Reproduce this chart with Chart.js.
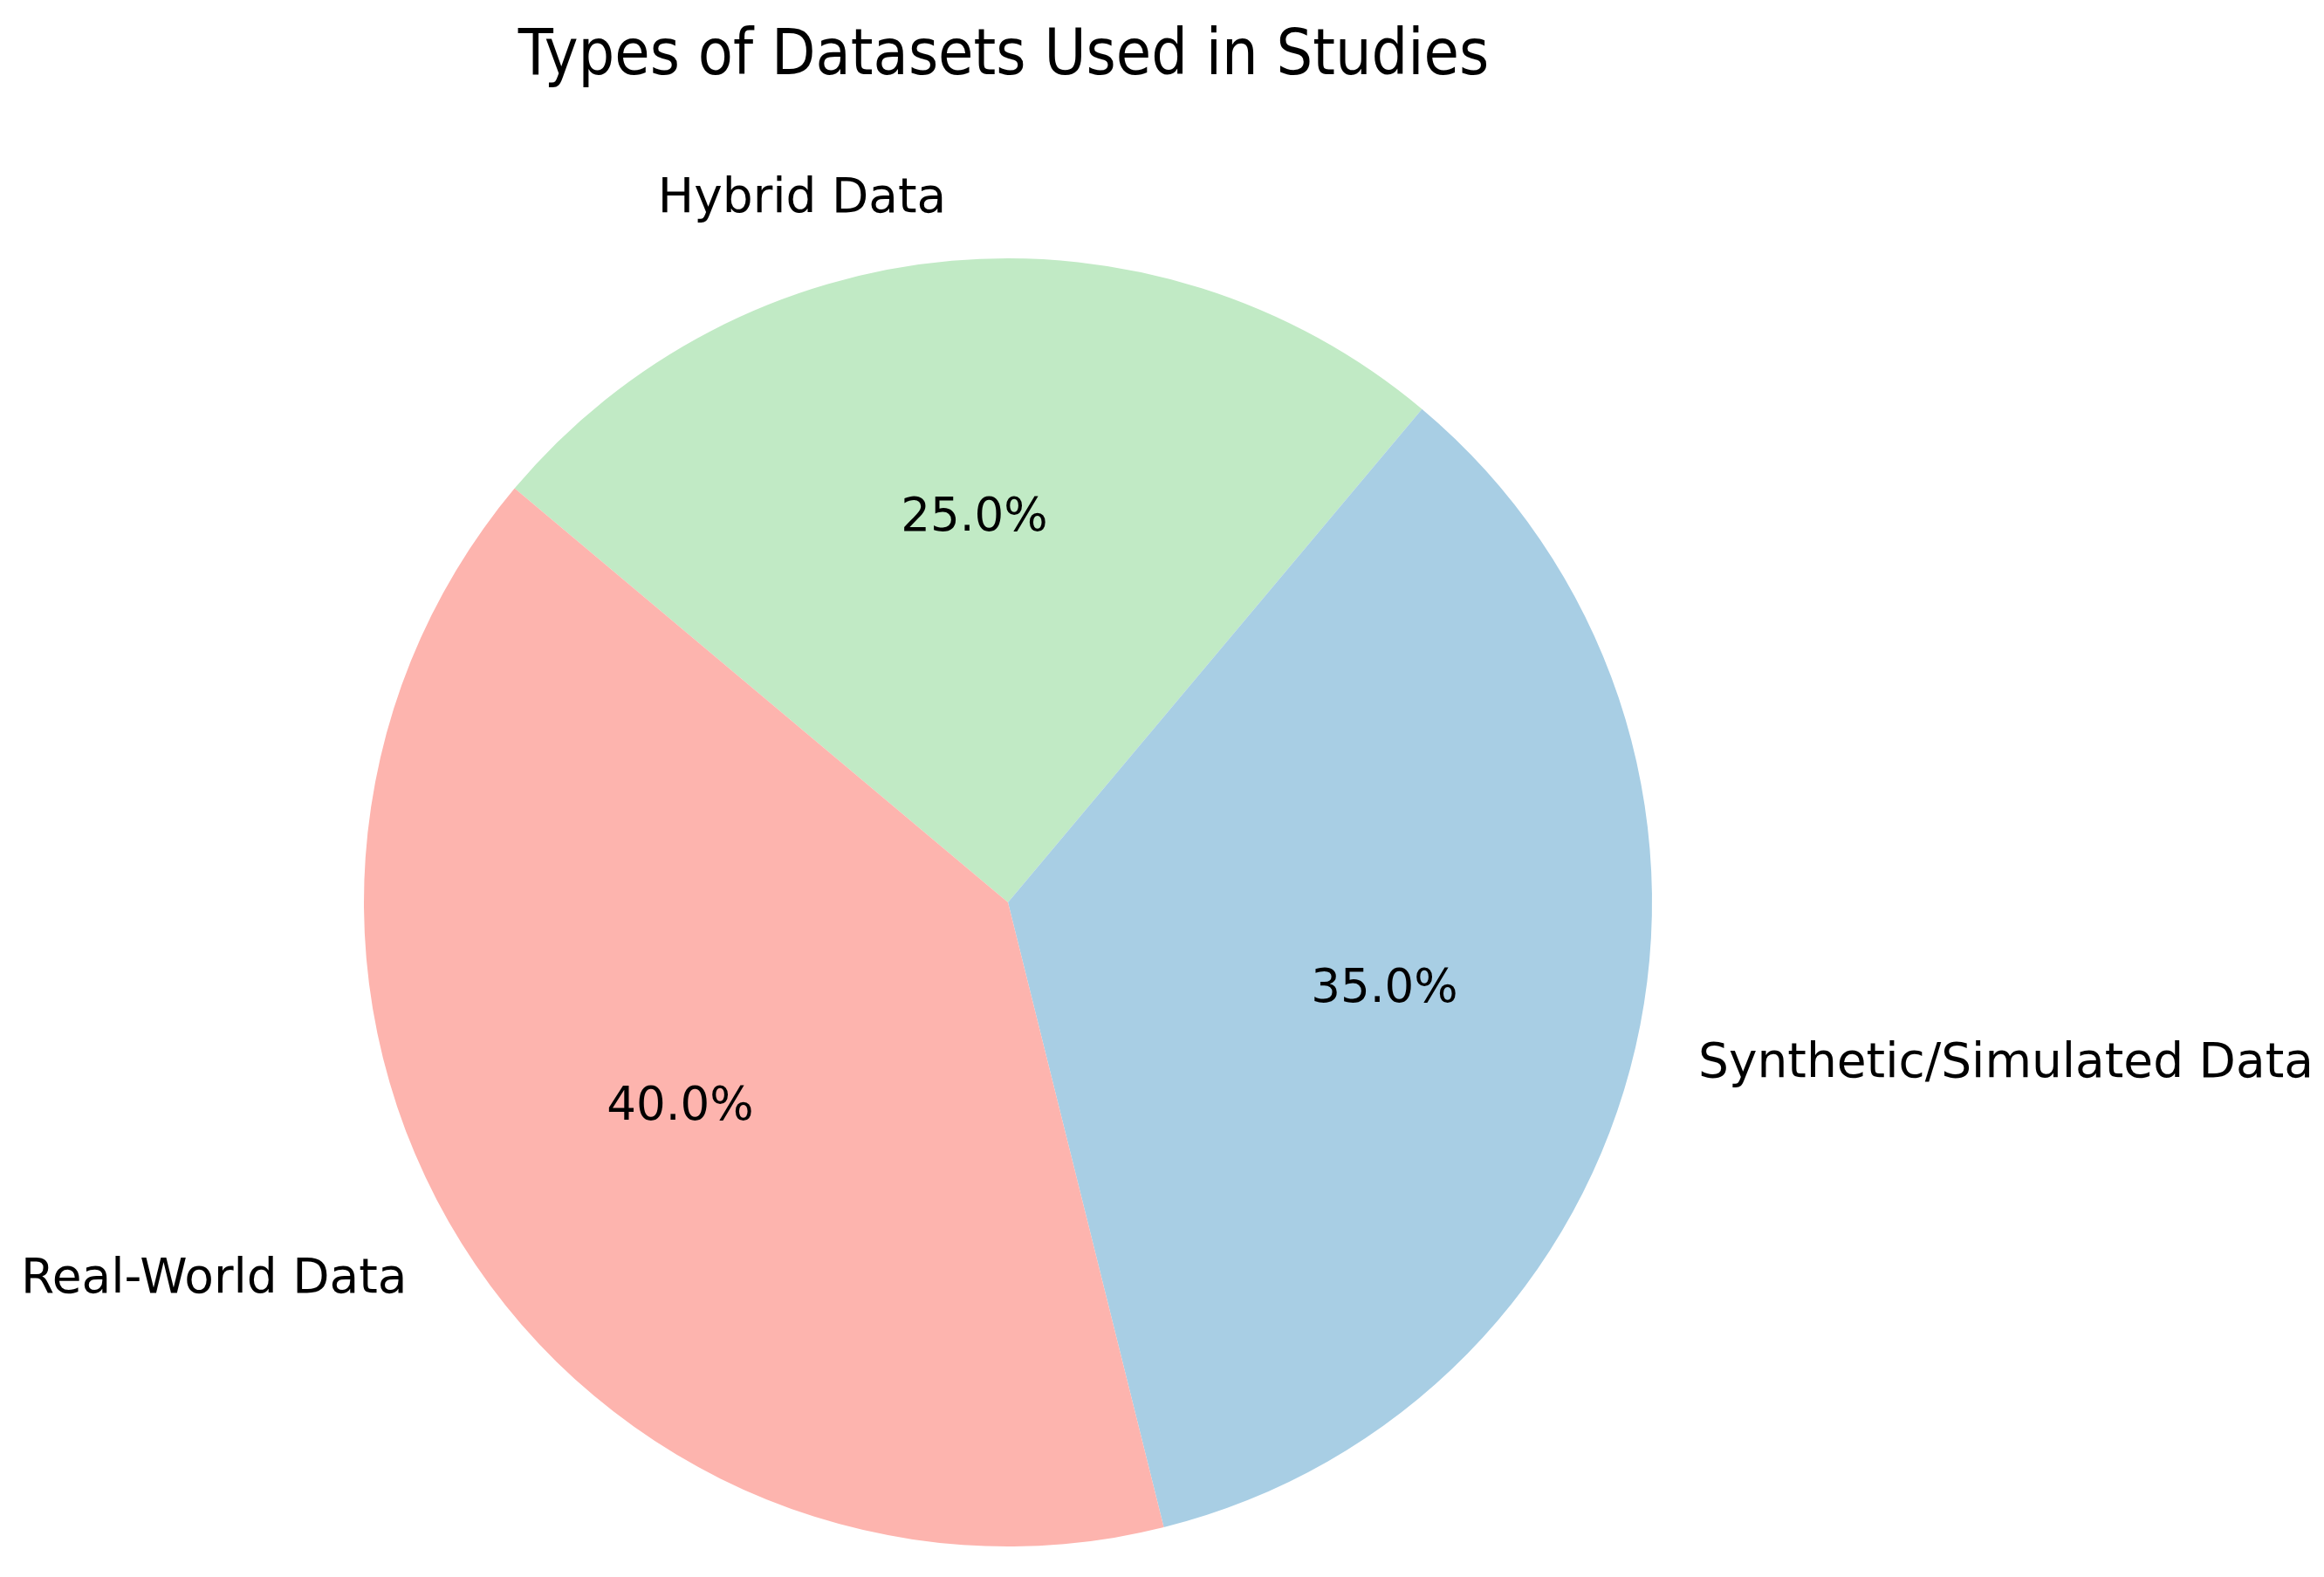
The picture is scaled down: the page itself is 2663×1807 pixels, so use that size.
<!DOCTYPE html>
<html>
<head>
<meta charset="utf-8">
<script src="https://cdn.jsdelivr.net/npm/chart.js@4.4.1/dist/chart.umd.min.js"></script>
<style>
  html, body { margin: 0; padding: 0; background: #ffffff; }
  #wrap { width: 2663px; height: 1807px; position: relative; }
  canvas { display: block; }
</style>
</head>
<body>
<div id="wrap"><canvas id="c" width="2663" height="1807"></canvas></div>
<script>
// ---- data (matplotlib order, counter-clockwise from 140°) ----
const chartTitle = "Types of Datasets Used in Studies";
const categories = ["Real-World Data", "Synthetic/Simulated Data", "Hybrid Data"];
const shares = [40, 35, 25];
const sliceColors = ["#fdb4ae", "#a8cee4", "#c1eac5"];

// Chart.js draws clockwise; reverse to reproduce the counter-clockwise layout
const order = [2, 1, 0];
const libLabels = order.map(i => categories[i]);
const libValues = order.map(i => shares[i]);
const libColors = order.map(i => sliceColors[i]);

const FONT = '"DejaVu Sans", "Liberation Sans", sans-serif';

const labelPlugin = {
  id: 'mplLabels',
  afterDatasetsDraw(chart) {
    const ctx = chart.ctx;
    const meta = chart.getDatasetMeta(0);
    const total = libValues.reduce((a, b) => a + b, 0);
    ctx.save();
    ctx.fillStyle = '#000000';
    meta.data.forEach((arc, i) => {
      const p = arc.getProps(['x', 'y', 'startAngle', 'endAngle', 'outerRadius'], true);
      const mid = (p.startAngle + p.endAngle) / 2;
      const cx = Math.cos(mid), cy = Math.sin(mid);
      // percentage
      ctx.font = '53px ' + FONT;
      ctx.textAlign = 'center';
      ctx.textBaseline = 'middle';
      const pct = (libValues[i] / total * 100).toFixed(1) + '%';
      ctx.fillText(pct, p.x + cx * p.outerRadius * 0.6, p.y + cy * p.outerRadius * 0.6 + 1);
      // category label
      ctx.font = '55px ' + FONT;
      ctx.textAlign = cx > 0 ? 'left' : 'right';
      ctx.fillText(libLabels[i], p.x + cx * p.outerRadius * 1.1, p.y + cy * p.outerRadius * 1.1 + 3);
    });
    // title (slightly condensed as in the reference)
    ctx.font = '73px ' + FONT;
    ctx.textAlign = 'center';
    ctx.textBaseline = 'alphabetic';
    ctx.translate(1150, 85);
    ctx.scale(0.9, 1);
    ctx.fillText(chartTitle, 0, 0);
    ctx.restore();
  }
};

new Chart(document.getElementById('c'), {
  type: 'pie',
  data: {
    labels: libLabels,
    datasets: [{
      data: libValues,
      backgroundColor: libColors,
      borderWidth: 0,
      hoverOffset: 0
    }]
  },
  options: {
    responsive: false,
    maintainAspectRatio: false,
    devicePixelRatio: 1,
    animation: false,
    rotation: -50,
    layout: { padding: { left: 417, right: 770, top: 296, bottom: 35 } },
    plugins: {
      legend: { display: false },
      title: { display: false },
      tooltip: { enabled: false }
    }
  },
  plugins: [labelPlugin]
});
</script>
</body>
</html>
